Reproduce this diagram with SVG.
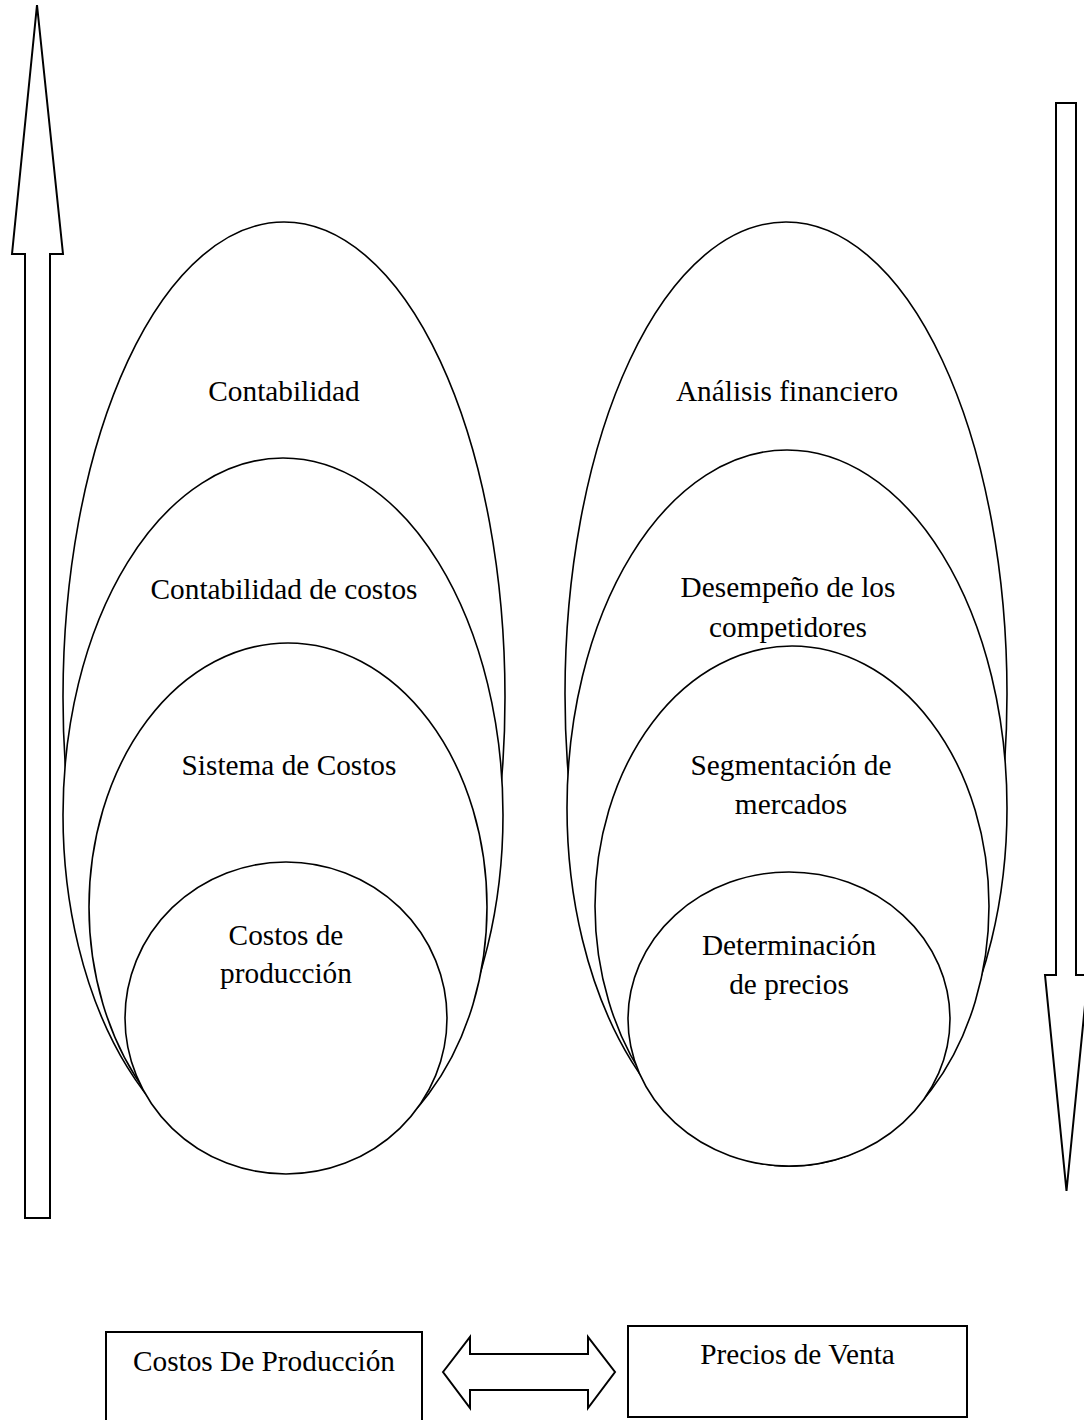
<svg xmlns="http://www.w3.org/2000/svg" width="1084" height="1420" viewBox="0 0 1084 1420">
<style>
.sh{fill:#fff;stroke:#000;stroke-width:1.6}
.ar{fill:#fff;stroke:#000;stroke-width:2;stroke-linejoin:miter}
.bx{fill:#fff;stroke:#000;stroke-width:2}
text{font-family:"Liberation Serif","Times New Roman",serif;font-size:29.3px;fill:#000;text-anchor:middle}
</style>
<rect width="1084" height="1420" fill="#fff"/>
<g id="connectors">
<path id="arrow-up" class="ar" d="M37,5 L63,254 L50,254 L50,1218 L25,1218 L25,254 L12,254 Z"/>
<path id="arrow-down" class="ar" d="M1056,103 L1076,103 L1076,975 L1088,975 L1066.5,1191 L1045,975 L1056,975 Z"/>
<path id="arrow-both" class="ar" d="M443,1372 L470,1337 L470,1354 L588,1354 L588,1337 L615,1372 L588,1408 L588,1390 L470,1390 L470,1408 Z"/>
</g>
<g id="contabilidad"><ellipse class="sh" cx="284" cy="697" rx="221" ry="475"/><text x="284" y="401">Contabilidad</text></g>
<g id="contabilidad-costos"><ellipse class="sh" cx="283" cy="815" rx="220" ry="357"/><text x="284" y="599">Contabilidad de costos</text></g>
<g id="sistema-costos"><ellipse class="sh" cx="288" cy="907" rx="199" ry="264"/><text x="289" y="775">Sistema de Costos</text></g>
<g id="costos-produccion"><ellipse class="sh" cx="286" cy="1018" rx="161" ry="156"/><text x="286" y="945">Costos de</text><text x="286" y="983">producción</text></g>
<g id="analisis"><ellipse class="sh" cx="786" cy="694" rx="221" ry="472"/><text x="787" y="401">Análisis financiero</text></g>
<g id="desempeno"><ellipse class="sh" cx="787" cy="808" rx="220" ry="358"/><text x="788" y="597">Desempeño de los</text><text x="788" y="637">competidores</text></g>
<g id="segmentacion"><ellipse class="sh" cx="792" cy="906" rx="197" ry="260"/><text x="791" y="775">Segmentación de</text><text x="791" y="814">mercados</text></g>
<g id="determinacion"><ellipse class="sh" cx="789" cy="1019" rx="161" ry="147"/><text x="789" y="955">Determinación</text><text x="789" y="994">de precios</text></g>
<g id="box-costos"><rect class="bx" x="106" y="1332" width="316" height="100"/><text x="264" y="1371">Costos De Producción</text></g>
<g id="box-precios"><rect class="bx" x="628" y="1326" width="339" height="91"/><text x="797.5" y="1364">Precios de Venta</text></g>
</svg>
